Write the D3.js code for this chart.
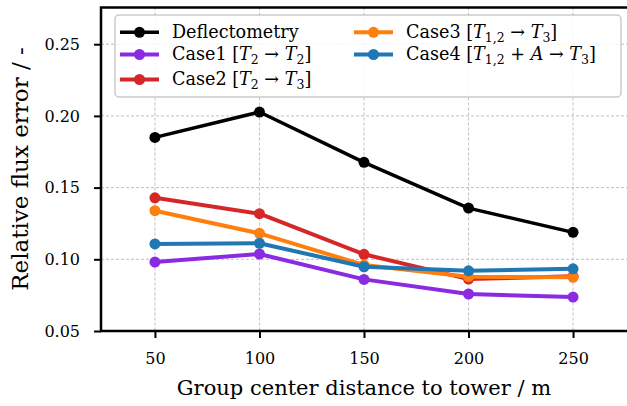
<!DOCTYPE html>
<html>
<head>
<meta charset="utf-8">
<script src="https://cdn.jsdelivr.net/npm/d3@7"></script>
<style>
  body { margin: 0; background: #fff; }
  svg { display: block; font-family: "DejaVu Serif", "Liberation Serif", serif; }
</style>
</head>
<body>
<div id="chart"></div>
<script>

var distances = [50, 100, 150, 200, 250];
var deflectometry = [0.185, 0.2027, 0.1676, 0.1357, 0.1188];
var case1 = [0.0981, 0.1037, 0.0860, 0.0758, 0.0737];
var case2 = [0.1429, 0.1318, 0.1035, 0.0862, 0.0881];
var case3 = [0.1339, 0.1181, 0.0960, 0.0879, 0.0874];
var case4 = [0.1107, 0.1112, 0.0948, 0.0920, 0.0934];

var xTicks = [50, 100, 150, 200, 250];
var yTicks = [0.05, 0.10, 0.15, 0.20, 0.25];

// label pieces: [text, kind] kind: n = normal, i = italic, s = subscript
var labels = [
    [["Deflectometry", "n"]],
    [["Case1 [", "n"], ["T", "i"], ["2", "s"], [" \u2192 ", "n"], ["T", "i"], ["2", "s"], ["]", "n"]],
    [["Case2 [", "n"], ["T", "i"], ["2", "s"], [" \u2192 ", "n"], ["T", "i"], ["3", "s"], ["]", "n"]],
    [["Case3 [", "n"], ["T", "i"], ["1,2", "s"], [" \u2192 ", "n"], ["T", "i"], ["3", "s"], ["]", "n"]],
    [["Case4 [", "n"], ["T", "i"], ["1,2", "s"], [" + ", "n"], ["A", "i"], [" \u2192 ", "n"], ["T", "i"], ["3", "s"], ["]", "n"]]
];
var colors = ["#000000", "#8a2be2", "#d62728", "#ff7f0e", "#1f77b4"];
var series = [deflectometry, case1, case2, case3, case4];

var width = 627, height = 406;
var plotLeft = 101, plotRight = 627, plotTop = 7.5, plotBottom = 331;

var svg = d3.select("#chart")
    .append("svg")
    .attr("width", width)
    .attr("height", height);

var x = d3.scaleLinear().domain([24.2, 275.8]).range([plotLeft, plotRight]);
var y = d3.scaleLinear().domain([0.05, 0.2756]).range([plotBottom, plotTop]);

// grid
var grid = svg.append("g")
    .attr("stroke", "#b0b0b0")
    .attr("stroke-width", 0.8)
    .attr("stroke-dasharray", "3,2");
grid.selectAll("line.gx")
    .data(xTicks)
    .enter()
    .append("line")
    .attr("x1", function (d) { return x(d); })
    .attr("x2", function (d) { return x(d); })
    .attr("y1", plotTop)
    .attr("y2", plotBottom);
grid.selectAll("line.gy")
    .data(yTicks)
    .enter()
    .append("line")
    .attr("x1", plotLeft)
    .attr("x2", plotRight)
    .attr("y1", function (d) { return y(d); })
    .attr("y2", function (d) { return y(d); });

// lines + markers
var line = d3.line()
    .x(function (d, i) { return x(distances[i]); })
    .y(function (d) { return y(d); });

series.forEach(function (s, k) {
    svg.append("path")
        .datum(s)
        .attr("d", line)
        .attr("fill", "none")
        .attr("stroke", colors[k])
        .attr("stroke-width", k == 0 ? 3.5 : 4)
        .attr("stroke-linejoin", "round");
    svg.selectAll("circle.s" + k)
        .data(s)
        .enter()
        .append("circle")
        .attr("cx", function (d, i) { return x(distances[i]); })
        .attr("cy", function (d) { return y(d); })
        .attr("r", 5.5)
        .attr("fill", colors[k]);
});

// axes
var xAxis = svg.append("g")
    .attr("transform", "translate(0," + plotBottom + ")")
    .call(d3.axisBottom(x).tickValues(xTicks).tickSize(7));
var yAxis = svg.append("g")
    .attr("transform", "translate(" + plotLeft + ",0)")
    .call(d3.axisLeft(y).tickValues(yTicks).tickSize(7)
        .tickFormat(d3.format(".2f")));

[xAxis, yAxis].forEach(function (a) {
    a.select(".domain").remove();
    a.selectAll(".tick line").attr("stroke", "#000").attr("stroke-width", 2);
    a.selectAll(".tick text")
        .attr("fill", "#000")
        .attr("font-family", "DejaVu Serif")
        .attr("font-size", 16);
});
xAxis.selectAll(".tick text").attr("y", 33).attr("dy", null);
yAxis.selectAll(".tick text").attr("x", -21);

// spines
svg.append("path")
    .attr("d", "M" + plotRight + "," + plotTop + "H" + plotLeft + "V" + plotBottom + "H" + plotRight)
    .attr("fill", "none")
    .attr("stroke", "#000")
    .attr("stroke-width", 2.5);

// axis labels
svg.append("text")
    .attr("x", 364)
    .attr("y", 395)
    .attr("text-anchor", "middle")
    .attr("font-size", 21)
    .text("Group center distance to tower / m");

svg.append("text")
    .attr("transform", "translate(28,169) rotate(-90)")
    .attr("text-anchor", "middle")
    .attr("font-size", 23)
    .text("Relative flux error / -");

// legend
var legend = svg.append("g");
legend.append("rect")
    .attr("x", 115)
    .attr("y", 15)
    .attr("width", 506)
    .attr("height", 82)
    .attr("rx", 4)
    .attr("fill", "#fff")
    .attr("fill-opacity", 0.85)
    .attr("stroke", "#cccccc")
    .attr("stroke-width", 1.5);

var legPos = [[120, 32.3], [120, 54.5], [120, 79.5], [354, 32.3], [354, 54.5]];
labels.forEach(function (lab, k) {
    var p = legPos[k];
    var g = legend.append("g").attr("transform", "translate(" + p[0] + "," + p[1] + ")");
    g.append("line")
        .attr("x1", 0).attr("x2", 39)
        .attr("stroke", colors[k])
        .attr("stroke-width", k == 0 ? 3.5 : 4);
    g.append("circle").attr("cx", 19.5).attr("r", 5.5).attr("fill", colors[k]);
    var t = g.append("text")
        .attr("x", 52)
        .attr("y", 5.5)
        .attr("font-size", 17.6)
        .attr("xml:space", "preserve");
    var shifted = false;
    lab.forEach(function (piece) {
        var ts = t.append("tspan").text(piece[0]);
        if (piece[1] == "i") ts.attr("font-style", "italic");
        if (piece[1] == "s") {
            ts.attr("font-size", 12.5).attr("dy", 4);
            shifted = true;
        } else if (shifted) {
            ts.attr("dy", -4);
            shifted = false;
        }
    });
});
</script>
</body>
</html>
